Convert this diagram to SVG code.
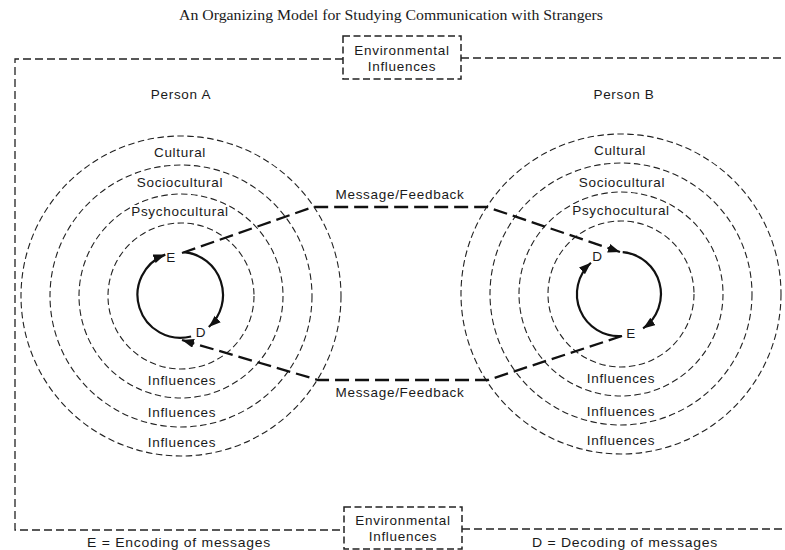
<svg xmlns="http://www.w3.org/2000/svg" width="785" height="550" viewBox="0 0 785 550">
<style>
text{font-family:"Liberation Sans",Arial,sans-serif;font-size:13.5px;fill:#1a1a1a;letter-spacing:0.7px}
.title{font-family:"Liberation Serif","Times New Roman",serif;font-size:14px;letter-spacing:0}
.c{text-anchor:middle}
.halo{stroke:#fff;stroke-width:4px;paint-order:stroke;stroke-linejoin:round}
.ring{fill:none;stroke:#222;stroke-width:1.1;stroke-dasharray:6.5 3.5}
.frame{fill:none;stroke:#222;stroke-width:1.3;stroke-dasharray:8 4}
.box{fill:#fff;stroke:#222;stroke-width:1.5;stroke-dasharray:7 3.5}
.msg{fill:none;stroke:#111;stroke-width:2.3;stroke-dasharray:14 6}
.loop{fill:none;stroke:#111;stroke-width:2.2}
</style>
<defs>
<marker id="ah" markerUnits="userSpaceOnUse" markerWidth="13" markerHeight="10" refX="12" refY="4.5" orient="auto" viewBox="0 0 13 10">
<path d="M0,0 L12,4.5 L0,9 Z" fill="#111"/>
</marker>
</defs>
<rect width="785" height="550" fill="#fff"/>
<text class="title c" x="391" y="20" textLength="424" lengthAdjust="spacingAndGlyphs">An Organizing Model for Studying Communication with Strangers</text>

<g id="frame">
<path class="frame" d="M343,59 H15 V530 H344"/>
<path class="frame" d="M461,58 H785"/>
<path class="frame" d="M462,529 H785"/>
</g>

<g id="env-top">
<rect class="box" x="343" y="36" width="118" height="43"/>
<text class="c" x="402" y="55">Environmental</text>
<text class="c" x="402" y="71">Influences</text>
</g>

<g id="env-bottom">
<rect class="box" x="344" y="507" width="118" height="42"/>
<text class="c" x="403" y="525">Environmental</text>
<text class="c" x="403" y="541">Influences</text>
</g>

<g id="person-a">
<text class="c" x="181" y="99">Person A</text>
<circle class="ring" cx="181" cy="296" r="160"/>
<circle class="ring" cx="181" cy="296" r="131"/>
<circle class="ring" cx="181" cy="296" r="102"/>
<circle class="ring" cx="181" cy="296" r="73"/>
<text class="c halo" x="180" y="157">Cultural</text>
<text class="c halo" x="180" y="187">Sociocultural</text>
<text class="c halo" x="180" y="216">Psychocultural</text>
<text class="c halo" x="182" y="385">Influences</text>
<text class="c halo" x="182" y="417">Influences</text>
<text class="c halo" x="182" y="447">Influences</text>
<path class="loop" d="M183.7,252.2 A43,43 0 0 1 208.8,327" marker-end="url(#ah)"/>
<path class="loop" d="M191.1,336.5 A43,43 0 0 1 165.3,254.6" marker-end="url(#ah)"/>
<text class="c" x="171" y="262">E</text>
<text class="c" x="201" y="337">D</text>
</g>

<g id="person-b">
<text class="c" x="624" y="99">Person B</text>
<circle class="ring" cx="621" cy="294" r="160"/>
<circle class="ring" cx="621" cy="294" r="131"/>
<circle class="ring" cx="621" cy="294" r="102"/>
<circle class="ring" cx="621" cy="294" r="73"/>
<text class="c halo" x="620" y="155">Cultural</text>
<text class="c halo" x="622" y="187">Sociocultural</text>
<text class="c halo" x="621" y="215">Psychocultural</text>
<text class="c halo" x="621" y="383">Influences</text>
<text class="c halo" x="621" y="416">Influences</text>
<text class="c halo" x="621" y="445">Influences</text>
<path class="loop" d="M622.7,252.2 A42,42 0 0 1 643.1,328.4" marker-end="url(#ah)"/>
<path class="loop" d="M621.7,336 A42,42 0 0 1 590.9,262.8" marker-end="url(#ah)"/>
<text class="c" x="597.5" y="261">D</text>
<text class="c" x="631" y="338">E</text>
</g>

<g id="connectors">
<path class="msg" d="M182,253 L313,207 L487,207 L620,252" marker-end="url(#ah)"/>
<path class="msg" d="M622,336 L488,380 L318,380 L182,340" marker-end="url(#ah)"/>
<text class="c" x="400" y="199">Message/Feedback</text>
<text class="c" x="400" y="397">Message/Feedback</text>
</g>

<g id="legend">
<text x="87" y="547" textLength="184" lengthAdjust="spacingAndGlyphs">E = Encoding of messages</text>
<text x="532" y="547" textLength="186" lengthAdjust="spacingAndGlyphs">D = Decoding of messages</text>
</g>
</svg>
